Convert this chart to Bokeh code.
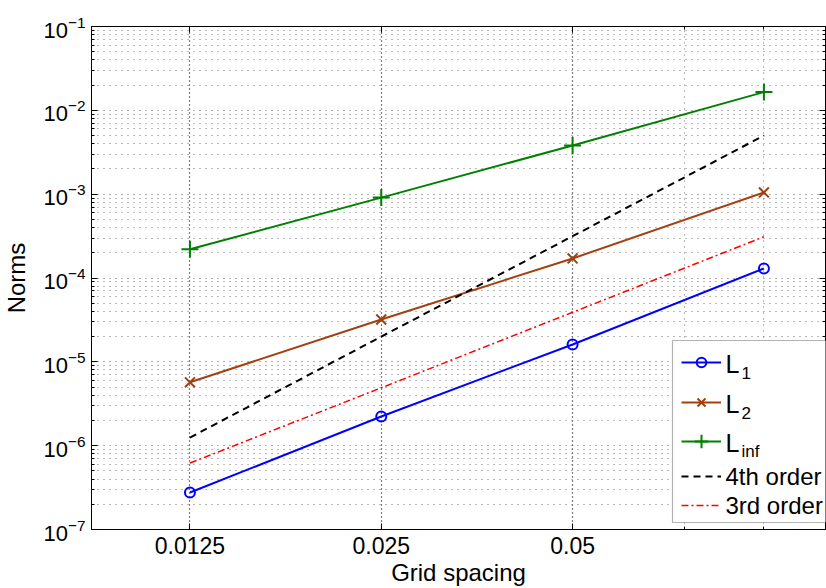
from bokeh.plotting import figure
from bokeh.models import (Range1d, FixedTicker, CustomJSTickFormatter, LogAxis,
                          Legend, LegendItem, Label, BoxAnnotation)
from bokeh.embed import file_html
from bokeh.resources import INLINE

# ---- data ----
grid_spacing = [0.0125, 0.025, 0.05, 0.1]
norm_L1 = [2.76e-7, 2.23e-6, 1.61e-5, 1.30e-4]
norm_L2 = [5.7e-6, 3.2e-5, 1.71e-4, 1.05e-3]
norm_Linf = [2.2e-4, 9.1e-4, 3.8e-3, 1.65e-2]
order4 = [1.25e-6, 2.0e-5, 3.15e-4, 5.0e-3]
order3 = [6.2e-7, 4.9e-6, 3.9e-5, 3.1e-4]

x_ticks = [0.0125, 0.025, 0.05]
x_minor = [0.075, 0.1, 0.125]
y_ticks = [1e-7, 1e-6, 1e-5, 1e-4, 1e-3, 1e-2, 1e-1]
y_minor = [k * 10.0 ** e for e in range(-7, -1) for k in range(2, 10)]

FONT = "Liberation Sans"

p = figure(width=826, height=588, x_axis_type="log", y_axis_type="log",
           x_range=Range1d(0.00875, 0.125), y_range=Range1d(1e-7, 1e-1),
           output_backend="svg", toolbar_location=None,
           min_border_left=91, min_border_right=1, min_border_top=26,
           min_border_bottom=59)
p.background_fill_color = "white"
p.border_fill_color = "white"
p.outline_line_color = "black"
p.outline_line_width = 1

# axes
for ax in [p.xaxis[0], p.yaxis[0]]:
    ax.axis_line_color = "black"
    ax.major_tick_in = 6
    ax.major_tick_out = 0
    ax.minor_tick_in = 3
    ax.minor_tick_out = 0
    ax.major_tick_line_color = "black"
    ax.minor_tick_line_color = "black"
    ax.major_label_text_font = FONT
    ax.major_label_text_color = "black"
    ax.axis_label_text_font = FONT
    ax.axis_label_text_font_size = "24px"
    ax.axis_label_text_font_style = "normal"
    ax.axis_label_text_color = "black"

p.xaxis.major_label_text_font_size = "23px"
p.yaxis.major_label_text_font_size = "22px"

p.xaxis.ticker = FixedTicker(ticks=x_ticks, minor_ticks=x_minor)
p.xaxis.formatter = CustomJSTickFormatter(code="return tick.toString();")
p.xaxis.axis_label = "Grid spacing"
p.xaxis.major_label_standoff = 7
p.xaxis.axis_label_standoff = 2

p.yaxis.ticker = FixedTicker(ticks=y_ticks, minor_ticks=y_minor)
p.yaxis.axis_label = "Norms"
p.yaxis.major_label_standoff = 6
p.yaxis.axis_label_standoff = 10

# top / right axes (ticks only)
top = LogAxis(ticker=FixedTicker(ticks=x_ticks, minor_ticks=x_minor),
              formatter=CustomJSTickFormatter(code="return '';"),
              major_tick_in=6, major_tick_out=0, minor_tick_in=3, minor_tick_out=0,
              major_label_standoff=0, axis_line_color="black")
right = LogAxis(ticker=FixedTicker(ticks=y_ticks, minor_ticks=y_minor),
                formatter=CustomJSTickFormatter(code="return '';"),
                major_tick_in=6, major_tick_out=0, minor_tick_in=3, minor_tick_out=0,
                major_label_standoff=0, axis_line_color="black")
p.add_layout(top, "above")
p.add_layout(right, "right")

# grids
p.xgrid.grid_line_color = "black"
p.xgrid.grid_line_dash = "1 3"
p.xgrid.grid_line_width = 1.2
p.xgrid.minor_grid_line_color = "#777777"
p.xgrid.minor_grid_line_dash = "1 5"
p.ygrid.grid_line_color = "#666666"
p.ygrid.grid_line_dash = "1 5"
p.ygrid.minor_grid_line_color = "#777777"
p.ygrid.minor_grid_line_dash = "1 5"

# data
BLUE = "#0000ff"
BROWN = "#a3400f"
GREEN = "#008000"

r1l = p.line(grid_spacing, norm_L1, line_color=BLUE, line_width=2)
r1m = p.scatter(grid_spacing, norm_L1, marker="circle", size=10, fill_color=None,
                line_color=BLUE, line_width=2)
r2l = p.line(grid_spacing, norm_L2, line_color=BROWN, line_width=2)
r2m = p.scatter(grid_spacing, norm_L2, marker="x", size=14, line_color=BROWN, line_width=2)
r3l = p.line(grid_spacing, norm_Linf, line_color=GREEN, line_width=2)
r3m = p.scatter(grid_spacing, norm_Linf, marker="cross", size=17, line_color=GREEN, line_width=2)
r4 = p.line(grid_spacing, order4, line_color="black", line_width=2, line_dash="7 5")
r5 = p.line(grid_spacing, order3, line_color="#ff0000", line_width=1.5, line_dash="7 3 2 3")

# legend box (screen units, frame-relative)
box = BoxAnnotation(left=581, right=736, bottom=7, top=189,
                    left_units="screen", right_units="screen",
                    bottom_units="screen", top_units="screen",
                    fill_color="white", fill_alpha=1.0,
                    line_color="black", line_width=1.2)
p.add_layout(box)

entries = [
    ([r1l, r1m], 167, 24),
    ([r2l, r2m], 127, 28),
    ([r3l, r3m], 88, 34),
    ([r4], 53, 20),
    ([r5], 24, 20),
]
for rends, yc, gh in entries:
    lg = Legend(items=[LegendItem(label=" ", renderers=rends)],
                location=(590, yc - gh / 2), glyph_width=40, glyph_height=gh,
                label_height=gh, label_width=1, padding=0, margin=0, spacing=0,
                label_standoff=0, border_line_alpha=0, background_fill_alpha=0,
                label_text_font_size="1px")
    p.add_layout(lg)

# legend texts
for t, yc in [("L", 167), ("L", 127), ("L", 88)]:
    p.add_layout(Label(x=634, y=yc - 1, x_units="screen", y_units="screen",
                       text=t, text_font=FONT, text_font_size="25px",
                       text_baseline="alphabetic", text_color="black"))
for t, yc in [("4th order", 53), ("3rd order", 24)]:
    p.add_layout(Label(x=634, y=yc, x_units="screen", y_units="screen",
                       text=t, text_font=FONT, text_font_size="24px",
                       text_baseline="middle", text_color="black"))
for t, yc in [("1", 167), ("2", 127), ("inf", 88)]:
    p.add_layout(Label(x=650, y=yc - 10, x_units="screen", y_units="screen",
                       text=t, text_font=FONT, text_font_size="17px",
                       text_baseline="alphabetic", text_color="black"))

open("out.html", "w").write(file_html(p, INLINE))
